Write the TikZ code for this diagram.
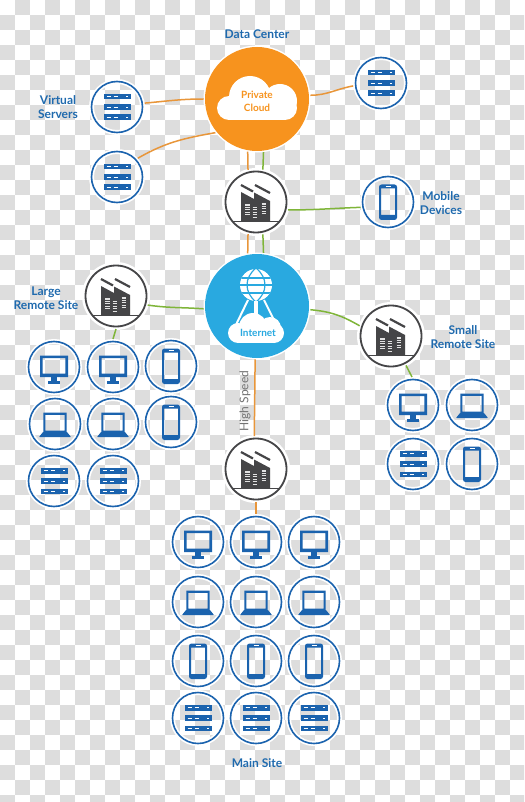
\documentclass[tikz,border=0pt]{standalone}
\usepackage{fontspec}
\setmainfont{Lato}
\usetikzlibrary{arrows.meta,calc}
\definecolor{devblue}{HTML}{1B63AE}
\definecolor{labelblue}{HTML}{1F6AAE}
\definecolor{cloudorange}{HTML}{F7931E}
\definecolor{netblue}{HTML}{29A9E0}
\definecolor{linkorange}{HTML}{E8963A}
\definecolor{linkgreen}{HTML}{7FB539}
\definecolor{hubgray}{HTML}{454547}
\definecolor{checkgray}{HTML}{DDDDDD}
\tikzset{
  device/.style={circle,draw=devblue,line width=1.6pt,minimum size=51pt,inner sep=0pt,outer sep=2.5pt,
    preaction={draw=white,line width=5pt}},
  hub/.style={circle,draw=hubgray,fill=white,line width=1.8pt,minimum size=61pt,inner sep=0pt,outer sep=2.5pt,
    preaction={draw=white,line width=7pt}},
  bigdisc/.style={circle,minimum size=104pt,inner sep=0pt,outer sep=1.5pt,
    preaction={draw=white,line width=3pt}},
  label/.style={text=labelblue,font=\fontsize{12}{14}\selectfont\bfseries,align=center,inner sep=0pt},
  disctext/.style={font=\fontsize{10}{12.7}\selectfont\bfseries,align=center,inner sep=0pt},
  orangelink/.style={draw=linkorange,line width=1.5pt},
  greenlink/.style={draw=linkgreen,line width=1.5pt},
  servericon/.pic={
    \foreach \dy in {-10.3,0,10.3}{
      \fill[devblue] (-13.5,\dy-2.8) rectangle (13.5,\dy+2.8);
      \draw[white,line width=0.7pt] (-10.5,\dy) -- (-6,\dy) (-3.5,\dy) -- (1,\dy) (9,\dy) -- (10.5,\dy);
    }
  },
  monitoricon/.pic={
    \fill[devblue,even odd rule] (-14,-11.5) rectangle (14,10) (-11.4,-8.9) rectangle (11.4,6.5);
    \fill[devblue] (-3,10) rectangle (3,14);
    \fill[devblue] (-6,14) rectangle (6,16.5);
  },
  laptopicon/.pic={
    \fill[devblue,even odd rule] (-11.7,-11.3) rectangle (11.7,8) (-9.6,-9.2) rectangle (9.6,6.5);
    \fill[devblue,rounded corners=0.6pt] (-12,8) -- (12,8) -- (16,13) -- (-16,13) -- cycle;
  },
  phoneicon/.pic={
    \fill[devblue,even odd rule] [rounded corners=2.5pt] (-9,-17.5) rectangle (9,18)
      [sharp corners] (-7,-13.5) rectangle (7,13);
    \draw[white,line width=0.6pt] (-2.5,-15.5) -- (2.5,-15.5);
  },
  factoryicon/.pic={
    \fill[hubgray] (-15,-10) -- (-2,-3) -- (-2,-9.5) -- (14,-1) -- (14,19) -- (-15,19) -- cycle;
    \draw[hubgray,line width=2.2pt] (-15,-17) -- (-3,-10.5) (-1,-17) -- (14,-9);
    \draw[hubgray,line width=1.8pt] (-24,19.5) -- (24,19.5);
    \foreach \wx/\wy in {-8.5/3,-1/5.5,8/2}{
      \foreach \st in {0,2.4,4.8,7.2,9.6}
        \draw[white!85!hubgray,line width=1.1pt] (\wx-2.4,\wy+\st) -- (\wx+2.4,\wy+\st);
    }
  }
}
\begin{document}
\begin{tikzpicture}[x=1pt,y=-1pt]
  \useasboundingbox (0,0) rectangle (524,802);
  % backdrop squares
  \fill[white] (0,0) rectangle (524,802);
  \begin{scope}
    \clip (0,0) rectangle (524,802);
    \foreach \i in {0,...,34}
      \foreach \j in {0,...,53}{
        \pgfmathtruncatemacro{\odd}{mod(\i+\j,2)}
        \ifnum\odd=1
          \fill[checkgray] (15*\i,15*\j) rectangle (15*\i+15,15*\j+15);
        \fi
      }
  \end{scope}

  % big discs and hubs
  \node[bigdisc,fill=cloudorange] (cloud) at (257,99) {};
  \node[bigdisc,fill=netblue] (internet) at (257,306) {};
  \node[hub] (hubtop) at (256,202) {};
  \node[hub] (large) at (116,296) {};
  \node[hub] (small) at (391,336) {};
  \node[hub] (mainhub) at (256,469) {};

  % devices
  \foreach \name/\px/\py/\kind in {
    vsa/117/107/servericon, vsb/117/177/servericon, vsc/381/83/servericon, mobile/388/202/phoneicon,
    la/54/367/monitoricon, lb/113/367/monitoricon, lc/171/366/phoneicon,
    ld/55/424/laptopicon, le/113/424/laptopicon, lf/171/422/phoneicon,
    lg/54/481/servericon, lh/113/481/servericon,
    sa/413/405/monitoricon, sb/472/405/laptopicon, sc/413/464/servericon, sd/472/464/phoneicon,
    ma/198/542/monitoricon, mb/256/542/monitoricon, mc/314/542/monitoricon,
    md/198/602/laptopicon, me/256/602/laptopicon, mf/314/602/laptopicon,
    mg/198/661/phoneicon, mh/256/661/phoneicon, mi/314/661/phoneicon,
    mj/198/718/servericon, mk/256/718/servericon, ml/314/718/servericon}{
    \node[device] (\name) at (\px,\py) {};
    \pic at (\name) {\kind};
  }
  \foreach \name in {hubtop,large,small,mainhub}
    \pic at (\name) {factoryicon};

  % links
  \draw[orangelink] (vsa.8) to[out=5,in=180] (cloud.180);
  \draw[orangelink] (vsb.42) to[out=30,in=190] (cloud.219);
  \draw[orangelink] (cloud.4) to[out=0,in=190] (vsc.186);
  \draw[orangelink] (cloud.260) -- (hubtop.104);
  \draw[greenlink] (cloud.277) -- (hubtop.78);
  \draw[orangelink] (hubtop.256) -- (internet.100);
  \draw[greenlink] (hubtop.282) -- (internet.83);
  \draw[greenlink] (hubtop.-14) to[out=0,in=182] (mobile.191);
  \draw[greenlink] (large.-16) to[out=-8,in=176] (internet.183);
  \draw[greenlink] (large.-90) -- (lb.90);
  \draw[greenlink] (internet.-4) to[out=-5,in=150] (small.162);
  \draw[greenlink] (small.-63) -- (sa.92);
  \draw[orangelink] (internet.268) -- (mainhub.93);
  \draw[orangelink] (mainhub.-90) -- (mb.90);

  % cloud in the orange disc
  \foreach \cx/\cy/\cr in {229/108/12, 250/97/21, 280/101/17, 285/108/12}
    \fill[white] (\cx,\cy) circle (\cr);
  \fill[white] (229,105) rectangle (285,120);
  \node[disctext,text=cloudorange] (cloudtext) at (257,101.5) {Private\\Cloud};

  % globe on its cloud
  \foreach \cx/\cy/\cr in {238/333/10, 253/327/14, 270/328/11, 274/333/10}
    \fill[white] (\cx,\cy) circle (\cr);
  \fill[white] (238,330) rectangle (274,343);
  \draw[white,line width=2pt] (248,300) -- (233,331) (264,300) -- (274,320);
  \draw[white,line width=4pt] (256,300) -- (256,315);
  \fill[white] (256,285) circle (16);
  \begin{scope}
    \clip (256,285) circle (16);
    \draw[netblue,line width=1.2pt] (236,278) -- (276,278) (236,285) -- (276,285) (236,293) -- (276,293);
    \draw[netblue,line width=1.2pt] (256,268) .. controls (244,278) and (244,292) .. (256,302)
      (256,268) .. controls (268,278) and (268,292) .. (256,302);
  \end{scope}
  \node[disctext,text=netblue] (nettext) at (258,333) {Internet};

  % labels
  \node[label] (datacenter) at (257,34) {Data Center};
  \node[label] (virtual) at (58,107) {Virtual\\Servers};
  \node[label] (mobiletext) at (441,203) {Mobile\\Devices};
  \node[label] (largetext) at (46,298) {Large\\Remote Site};
  \node[label] (smalltext) at (463,337) {Small\\Remote Site};
  \node[label] (mainsite) at (257,763) {Main Site};
  \node[rotate=90,text=black!55,font=\fontsize{12}{14}\selectfont,inner sep=0pt] (speed) at (245,401) {High Speed};
\end{tikzpicture}
\end{document}
